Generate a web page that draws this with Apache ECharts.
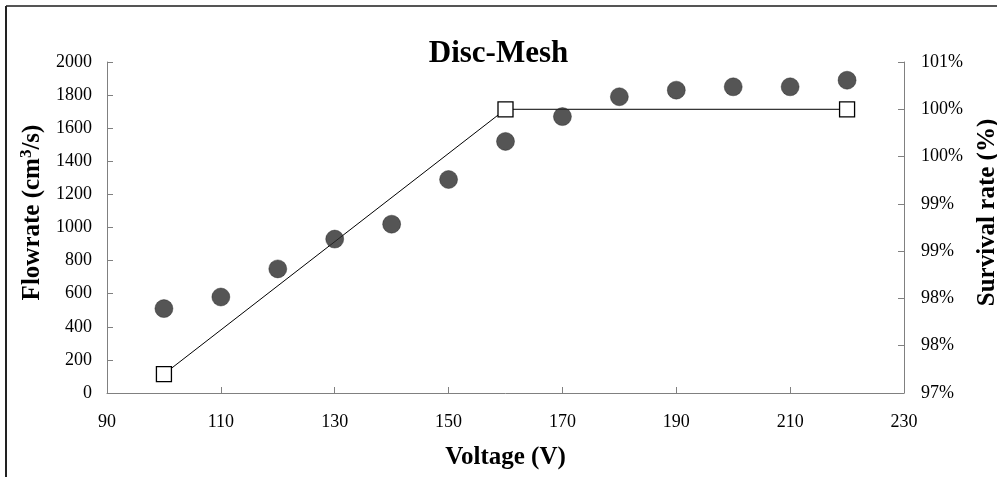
<!DOCTYPE html>
<html>
<head>
<meta charset="utf-8">
<script src="https://cdn.jsdelivr.net/npm/echarts@6/dist/echarts.min.js"></script>
<style>
html,body{margin:0;padding:0;background:#fff;}
#chart{width:997px;height:477px;}
</style>
</head>
<body>
<div id="chart"></div>
<script>
// Data
const voltage = [100, 110, 120, 130, 140, 150, 160, 170, 180, 190, 200, 210, 220];
const flowrate = [510, 580, 750, 930, 1020, 1290, 1520, 1670, 1790, 1830, 1850, 1850, 1890];
const survivalVoltage = [100, 160, 220];
const survivalRate = [97.2, 100, 100];

const flowData = voltage.map((v, i) => [v, flowrate[i]]);
const survData = survivalVoltage.map((v, i) => [v, survivalRate[i]]);

const serif = 'Liberation Serif';
const chart = echarts.init(document.getElementById('chart'));
chart.setOption({
  backgroundColor: '#fff',
  animation: false,
  title: {
    text: 'Disc-Mesh',
    left: 'center',
    top: 33,
    textStyle: { fontFamily: serif, fontWeight: 'bold', fontSize: 31, color: '#000' }
  },
  grid: { left: 107, right: 93, top: 62, bottom: 84, containLabel: false, outerBoundsMode: 'none' },
  xAxis: {
    type: 'value',
    min: 90, max: 230, interval: 20,
    name: 'Voltage (V)',
    nameLocation: 'middle',
    nameGap: 52,
    nameTextStyle: { fontFamily: serif, fontWeight: 'bold', fontSize: 25, color: '#000' },
    axisLine: { show: true, lineStyle: { color: '#808080', width: 1 } },
    axisTick: { show: true, inside: true, length: 6, lineStyle: { color: '#808080' } },
    axisLabel: { fontFamily: serif, fontSize: 18, color: '#000', margin: 20, formatter: v => String(v) },
    splitLine: { show: false }
  },
  yAxis: [
    {
      type: 'value',
      min: 0, max: 2000, interval: 200,
      name: '{n|Flowrate (cm}{s|3}{n|/s)}',
      nameLocation: 'middle',
      nameGap: 55,
      nameTextStyle: {
        padding: [0, 0, 0, 30],
        rich: {
          n: { fontFamily: serif, fontWeight: 'bold', fontSize: 25, color: '#000' },
          s: { fontFamily: serif, fontWeight: 'bold', fontSize: 17, color: '#000', verticalAlign: 'top', padding: [0, 0, 12, 0] }
        }
      },
      axisLine: { show: true, lineStyle: { color: '#808080', width: 1 } },
      axisTick: { show: true, inside: true, length: 6, lineStyle: { color: '#808080' } },
      axisLabel: { fontFamily: serif, fontSize: 18, color: '#000', margin: 15, formatter: v => String(v) },
      splitLine: { show: false }
    },
    {
      type: 'value',
      min: 97, max: 100.5, interval: 0.5,
      position: 'right',
      name: 'Survival rate (%)',
      nameLocation: 'middle',
      nameGap: 71,
      nameRotate: 90,
      nameTextStyle: { fontFamily: serif, fontWeight: 'bold', fontSize: 25, color: '#000', padding: [0, 0, 0, 30] },
      axisLine: { show: true, lineStyle: { color: '#808080', width: 1 } },
      axisTick: { show: true, inside: true, length: 6, lineStyle: { color: '#808080' } },
      axisLabel: {
        fontFamily: serif, fontSize: 18, color: '#000', margin: 17,
        formatter: v => Math.round(v) + '%'
      },
      splitLine: { show: false }
    }
  ],
  graphic: [
    { type: 'line', shape: { x1: 6, y1: 6, x2: 997, y2: 6 }, style: { stroke: '#555', lineWidth: 2 }, silent: true },
    { type: 'line', shape: { x1: 6, y1: 6, x2: 6, y2: 477 }, style: { stroke: '#222', lineWidth: 2 }, silent: true }
  ],
  series: [
    {
      type: 'line',
      yAxisIndex: 1,
      data: survData,
      symbol: 'rect',
      symbolSize: 15,
      showSymbol: true,
      lineStyle: { color: '#000', width: 1 },
      itemStyle: { color: '#fff', borderColor: '#000', borderWidth: 1.3 },
      z: 2
    },
    {
      type: 'scatter',
      yAxisIndex: 0,
      data: flowData,
      symbol: 'circle',
      symbolSize: 18,
      itemStyle: { color: '#2b2b2b', borderColor: '#1a1a1a', borderWidth: 0.5 },
      z: 3
    }
  ]
});
</script>
</body>
</html>
